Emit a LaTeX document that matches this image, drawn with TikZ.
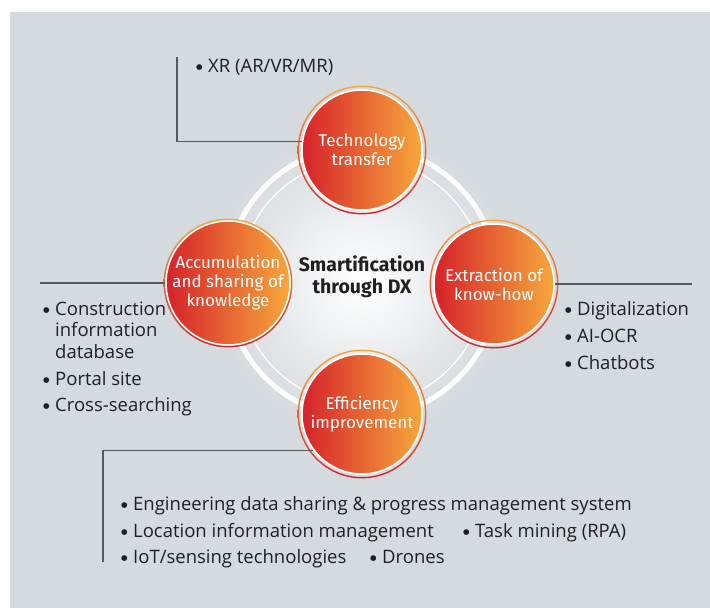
\documentclass[tikz,border=0pt]{standalone}
\usepackage{fontspec}
\setmainfont{Open Sans}
\newfontfamily\labelfont{Fira Sans}
\newfontfamily\dotfont{DejaVu Sans}

\definecolor{panel}{RGB}{213,218,222}
\definecolor{dxred}{RGB}{214,34,42}
\definecolor{dxorange}{RGB}{247,168,59}
\definecolor{ink}{RGB}{35,31,32}
\definecolor{leadgray}{RGB}{88,89,91}

% bullet hung to the left of an item's first line
\newcommand\itemdot{\llap{{\dotfont\fontsize{7.5}{7.5}\selectfont\raisebox{2.4pt}{●}}\hspace{5.5pt}}}

\begin{document}
\begin{tikzpicture}[x=1pt,y=-1pt,
  hub/.style={circle, minimum size=120pt, inner sep=0pt, draw=white,
    line width=1.5pt, left color=dxred, right color=dxorange, text=white,
    align=center, font=\labelfont\fontsize{17}{19}\selectfont},
  hubring/.style={top color=dxorange, bottom color=dxred, even odd rule},
  itemlist/.style={anchor=base west, inner sep=0pt, align=left, text=ink,
    font=\fontsize{18.5}{21.5}\selectfont},
  leader/.style={draw=leadgray, line width=1.2pt}]

% page and panel
\useasboundingbox (0,0) rectangle (710,608);
\fill[panel] (10,12) rectangle (710,608);

% central disc with its two white rings
\coordinate (c) at (362,282);
\shade[inner color=white, outer color=panel] (c) circle[radius=150pt];
\draw[white, line width=5pt] (c) circle[radius=136pt];
\draw[white, line width=1.3pt] (c) circle[radius=123pt];

% four satellite circles
\node[hub] (tc) at (362,150) {Technology\\transfer};
\node[hub] (lc) at (228,283) {Accumulation\\and sharing of\\knowledge};
\node[hub] (rc) at (494,284) {Extraction of\\know-how};
\node[hub] (bc) at (362,414) {Efficiency\\improvement};
\foreach \n in {tc,lc,rc,bc}
  \path[hubring] (\n.center) circle[radius=64.4pt] circle[radius=63pt];

% centre title
\node[font=\labelfont\bfseries\fontsize{19.5}{22}\selectfont, text=ink,
  align=center] (title) at (362,277) {Smartification\\through DX};

% leader lines
\coordinate (xrtop) at (177,57);
\coordinate (lend) at (40,283);
\coordinate (rend) at (692,284);
\coordinate (bfoot) at (103,562);
\draw[leader] (xrtop) |- (tc.172);
\draw[leader] (lend) -- (lc.west);
\draw[leader] (rc.east) -- (rend);
\draw[leader] (bfoot) |- (bc.217);

% item lists
\node[itemlist] (xr) at (208,72) {\itemdot XR (AR/VR/MR)};
\node[itemlist] (know1) at (55,358)
  {\itemdot Construction\\information\\database};
\node[itemlist] (know2) at (55,385) {\itemdot Portal site};
\node[itemlist] (know3) at (55,411) {\itemdot Cross-searching};
\node[itemlist] (ext1) at (577,315) {\itemdot Digitalization};
\node[itemlist] (ext2) at (577,342) {\itemdot AI-OCR};
\node[itemlist] (ext3) at (577,369) {\itemdot Chatbots};
\node[itemlist] (eff1) at (133,510)
  {\itemdot Engineering data sharing \& progress management system};
\node[itemlist] (eff2) at (133,537)
  {\itemdot Location information management};
\node[itemlist] (eff3) at (475,537) {\itemdot Task mining (RPA)};
\node[itemlist] (eff4) at (133,563)
  {\itemdot IoT/sensing technologies};
\node[itemlist] (eff5) at (382,563) {\itemdot Drones};
\end{tikzpicture}
\end{document}
